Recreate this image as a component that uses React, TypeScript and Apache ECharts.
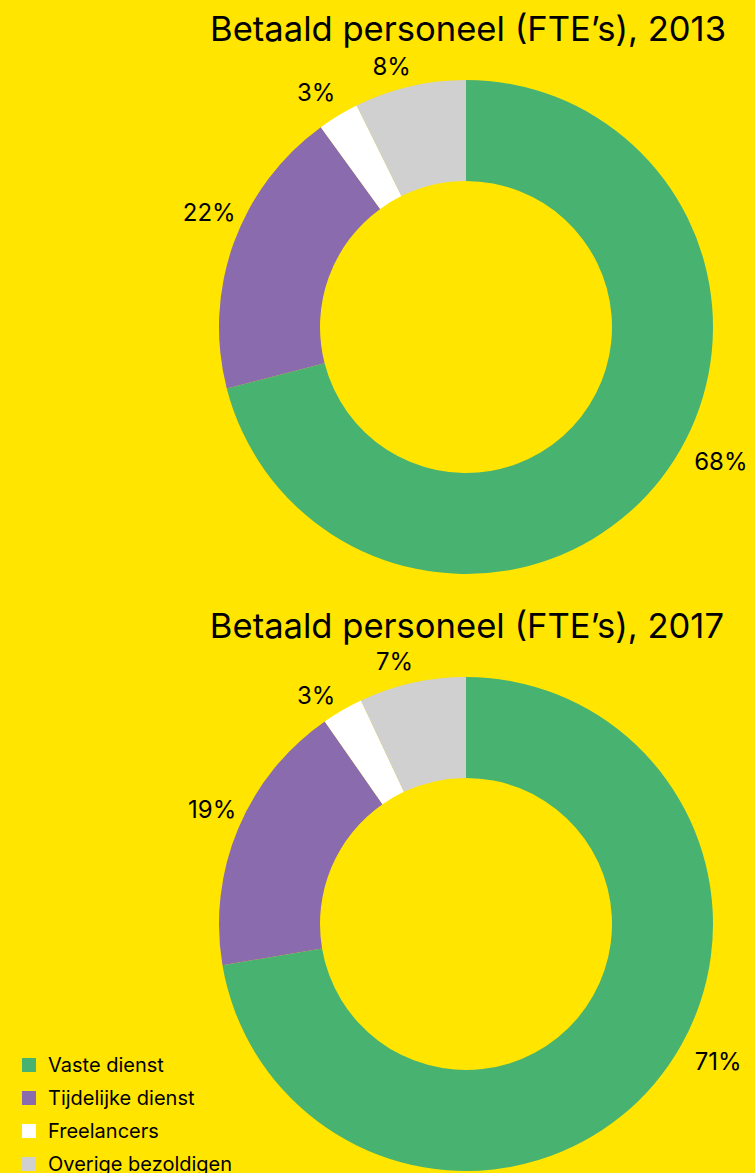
import React, { useEffect, useRef } from "react";
import * as echarts from "echarts";

const categories = ["Vaste dienst", "Tijdelijke dienst", "Freelancers", "Overige bezoldigen"];
const colors = ["#48B270", "#8A6BAE", "#FFFFFF", "#CFD0CF"];

// slice sizes as drawn in the picture (share of the ring, %)
const values2013 = [71, 19, 2.7, 7.3];
const values2017 = [72.4, 18, 2.7, 7];

// printed labels
const labels2013 = ["68%", "22%", "3%", "8%"];
const labels2017 = ["71%", "19%", "3%", "7%"];

const titles = ["Betaald personeel (FTE’s), 2013", "Betaald personeel (FTE’s), 2017"];

// small nudges of label text from the default outside position
const labelShift2013 = [[33, -17], [2, -31], [-3, -23], [1, -20]];
const labelShift2017 = [[40, -22], [-2, -19], [-7, -15], [1, -21]];

const FONT = "Inter, 'Noto Sans', sans-serif";
const BG = "#FFE500";

export default function App() {
  const ref = useRef<HTMLDivElement>(null);
  useEffect(() => {
    document.body.style.margin = "0";
    const chart = echarts.init(ref.current!, null, { renderer: "svg" });

    const makeSeries = (vals: number[], labs: string[], shifts: number[][], cy: number) => ({
      type: "pie",
      center: [466, cy],
      radius: [146, 247],
      startAngle: 90,
      clockwise: true,
      avoidLabelOverlap: false,
      silent: true,
      data: categories.map((name, i) => ({
        name,
        value: vals[i],
        itemStyle: { color: colors[i] },
      })),
      label: {
        show: true,
        position: "outside",
        formatter: (p: any) => labs[p.dataIndex],
        color: "#000",
        fontFamily: FONT,
        fontSize: 24,
        distanceToLabelLine: 0,
      },
      labelLine: { show: false, length: 0, length2: 0 },
      labelLayout: (p: any) => ({ dx: shifts[p.dataIndex][0], dy: shifts[p.dataIndex][1] }),
      emphasis: { disabled: true },
    });

    const titleStyle = { fontFamily: FONT, fontSize: 34.6, fontWeight: "normal", color: "#000" };

    chart.setOption({
      animation: false,
      backgroundColor: BG,
      title: [
        { text: titles[0], right: 24, top: 5, textStyle: titleStyle },
        { text: titles[1], right: 26, top: 602, textStyle: titleStyle },
      ],
      legend: {
        orient: "vertical",
        left: 17,
        top: 1050,
        height: 200,
        icon: "rect",
        itemWidth: 14,
        itemHeight: 14,
        itemGap: 13,
        data: categories,
        textStyle: { fontFamily: FONT, fontSize: 20, color: "#000", padding: [0, 0, 0, 7] },
        selectedMode: false,
      },
      series: [
        makeSeries(values2013, labels2013, labelShift2013, 327),
        makeSeries(values2017, labels2017, labelShift2017, 924),
      ],
    });
    return () => chart.dispose();
  }, []);
  return <div ref={ref} style={{ width: 755, height: 1173, background: BG }} />;
}
